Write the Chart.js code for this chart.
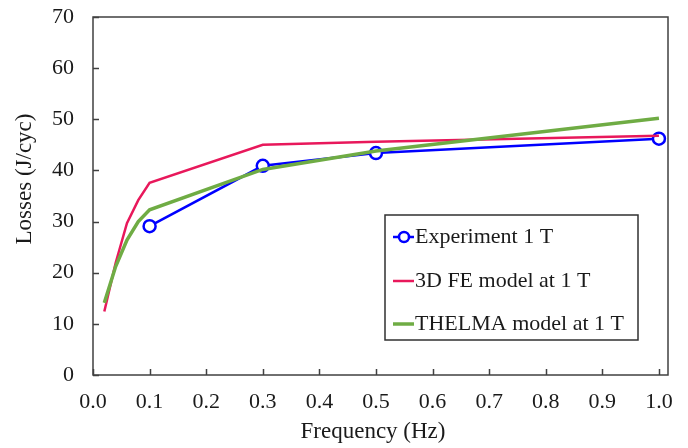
<!DOCTYPE html>
<html>
<head>
<meta charset="utf-8">
<script src="https://cdn.jsdelivr.net/npm/chart.js@4.4.1/dist/chart.umd.min.js"></script>
<style>
  html, body { margin:0; padding:0; background:#fff; }
  #wrap { width:688px; height:448px; position:relative; }
</style>
</head>
<body>
<div id="wrap"><canvas id="c"></canvas></div>
<script>
// Losses vs frequency — experiment and two models at 1 T
const SERIF = '"Liberation Serif", "Times New Roman", serif';
const AXIS = '#404040';
const TEXT = '#1a1a1a';

const freqExp = [0.1, 0.3, 0.5, 1.0];
const lossExp = [29.1, 40.9, 43.4, 46.2];

const freqModel = [0.02, 0.04, 0.06, 0.08, 0.1, 0.3, 0.5, 1.0];
const lossFE = [12.4, 21.9, 29.7, 34.2, 37.6, 45.0, 45.6, 46.8];
const lossThelma = [14.1, 21.2, 26.4, 30.0, 32.3, 40.2, 43.8, 50.2];

const xTicks = [0, 0.1, 0.2, 0.3, 0.4, 0.5, 0.6, 0.7, 0.8, 0.9, 1.0];
const yTicks = [0, 10, 20, 30, 40, 50, 60, 70];
const xTitle = 'Frequency (Hz)';
const yTitle = 'Losses (J/cyc)';

const pts = (xs, ys) => xs.map((x, i) => ({x, y: ys[i]}));

// frame + inward tick marks + axis titles
const frame = {
  id: 'frame',
  afterDraw(chart) {
    const {ctx, chartArea: a, scales} = chart;
    ctx.save();
    ctx.strokeStyle = AXIS;
    ctx.lineWidth = 1.5;
    ctx.strokeRect(a.left, a.top, a.right - a.left, a.bottom - a.top);
    ctx.beginPath();
    xTicks.forEach(v => {
      const px = Math.round(scales.x.getPixelForValue(v)) + 0.5;
      ctx.moveTo(px, a.bottom); ctx.lineTo(px, a.bottom - 6);
    });
    yTicks.forEach(v => {
      const py = Math.round(scales.y.getPixelForValue(v)) + 0.5;
      ctx.moveTo(a.left, py); ctx.lineTo(a.left + 6, py);
    });
    ctx.stroke();

    ctx.fillStyle = TEXT;
    ctx.font = '23px ' + SERIF;
    ctx.textAlign = 'center';
    ctx.textBaseline = 'middle';
    ctx.fillText(xTitle, 373, 432);
    ctx.translate(25, 179);
    ctx.rotate(-Math.PI / 2);
    ctx.fillText(yTitle, 0, 0);
    ctx.restore();
  }
};

// boxed legend inside the plot
const boxLegend = {
  id: 'boxLegend',
  afterDraw(chart) {
    const {ctx} = chart;
    const bx = 385, by = 215, bw = 253, bh = 125;
    const rows = [237, 281, 324];
    ctx.save();
    ctx.fillStyle = '#fff';
    ctx.fillRect(bx, by, bw, bh);
    ctx.strokeStyle = '#303030';
    ctx.lineWidth = 1.5;
    ctx.strokeRect(bx, by, bw, bh);
    ctx.font = '22px ' + SERIF;
    ctx.textBaseline = 'middle';
    ctx.fillStyle = TEXT;
    chart.data.datasets.forEach((ds, i) => {
      const y = rows[i];
      ctx.strokeStyle = ds.borderColor;
      ctx.lineWidth = ds.borderWidth;
      ctx.beginPath();
      ctx.moveTo(393, y); ctx.lineTo(414, y);
      ctx.stroke();
      if (ds.pointRadius) {
        ctx.beginPath();
        ctx.arc(404, y, 5, 0, Math.PI * 2);
        ctx.fillStyle = '#fff';
        ctx.fill();
        ctx.lineWidth = 2.5;
        ctx.stroke();
      }
      ctx.fillStyle = TEXT;
      ctx.fillText(ds.label, 415, y);
    });
    ctx.restore();
  }
};

new Chart(document.getElementById('c'), {
  type: 'scatter',
  data: {
    datasets: [
      { label: 'Experiment 1 T', data: pts(freqExp, lossExp), showLine: true,
        borderColor: '#0000ff', borderWidth: 2.5, pointRadius: 6, pointBorderWidth: 2.5,
        pointBackgroundColor: '#fff', pointBorderColor: '#0000ff', order: 2 },
      { label: '3D FE model at 1 T', data: pts(freqModel, lossFE), showLine: true,
        borderColor: '#e8185b', borderWidth: 2.5, pointRadius: 0, order: 1 },
      { label: 'THELMA model at 1 T', data: pts(freqModel, lossThelma), showLine: true,
        borderColor: '#6fac44', borderWidth: 3.5, pointRadius: 0, order: 0 },
    ]
  },
  options: {
    responsive: true, maintainAspectRatio: false, animation: false,
    layout: { padding: { top: 17, right: 20, left: 0, bottom: 0 } },
    plugins: { legend: { display: false }, tooltip: { enabled: false } },
    scales: {
      x: {
        type: 'linear', min: 0, max: 1.016,
        grid: { display: false, drawTicks: false }, border: { display: false },
        afterBuildTicks: (s) => { s.ticks = xTicks.map(v => ({value: v})); },
        afterFit: (s) => { s.height = 73; s.paddingLeft = 0; s.paddingRight = 0; },
        ticks: { padding: 14, color: TEXT, font: { family: SERIF, size: 22 },
                 maxRotation: 0, autoSkip: false, callback: (v) => Number(v).toFixed(1) },
        title: { display: false }
      },
      y: {
        min: 0, max: 70,
        grid: { display: false, drawTicks: false }, border: { display: false },
        afterBuildTicks: (s) => { s.ticks = yTicks.map(v => ({value: v})); },
        afterFit: (s) => { s.width = 93; s.paddingTop = 0; s.paddingBottom = 0; },
        ticks: { padding: 19, color: TEXT, font: { family: SERIF, size: 22 } },
        title: { display: false }
      }
    }
  },
  plugins: [frame, boxLegend]
});
</script>
</body>
</html>
